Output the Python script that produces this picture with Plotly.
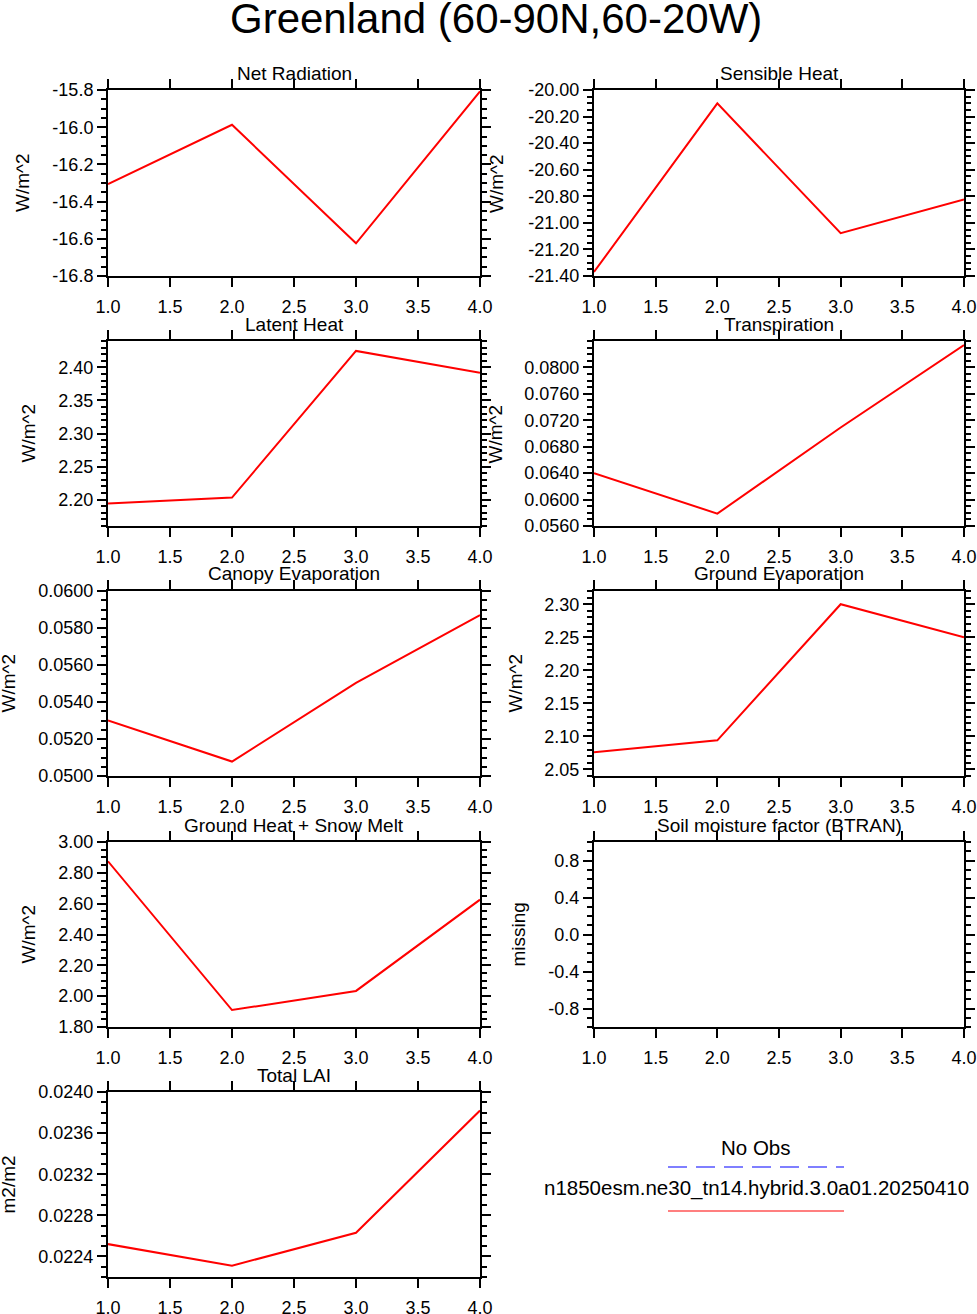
import plotly.graph_objects as go

# x axis of every panel
months = [1, 2, 3, 4]
x_ticks = [1.0, 1.5, 2.0, 2.5, 3.0, 3.5, 4.0]

# series values
net_radiation = [-16.306, -15.987, -16.624, -15.807]
sensible_heat = [-21.37, -20.10, -21.078, -20.824]
latent_heat = [2.194, 2.203, 2.425, 2.392]
transpiration = [0.0640, 0.05787, 0.0709, 0.0834]
canopy_evap = [0.0530, 0.05078, 0.05503, 0.0587]
ground_evap = [2.076, 2.094, 2.300, 2.250]
ground_heat = [2.875, 1.910, 2.034, 2.626]
btran = [None, None, None, None]
total_lai = [0.02252, 0.02231, 0.02263, 0.02382]

# y tick values per panel
net_radiation_ticks = [-16.8, -16.6, -16.4, -16.2, -16.0, -15.8]
sensible_heat_ticks = [-21.4, -21.2, -21.0, -20.8, -20.6, -20.4, -20.2, -20.0]
latent_heat_ticks = [2.20, 2.25, 2.30, 2.35, 2.40]
transpiration_ticks = [0.056, 0.060, 0.064, 0.068, 0.072, 0.076, 0.080]
canopy_evap_ticks = [0.050, 0.052, 0.054, 0.056, 0.058, 0.060]
ground_evap_ticks = [2.05, 2.10, 2.15, 2.20, 2.25, 2.30]
ground_heat_ticks = [1.8, 2.0, 2.2, 2.4, 2.6, 2.8, 3.0]
btran_ticks = [-0.8, -0.4, 0.0, 0.4, 0.8]
total_lai_ticks = [0.0224, 0.0228, 0.0232, 0.0236, 0.0240]

titles = ["Net Radiation", "Sensible Heat", "Latent Heat", "Transpiration",
          "Canopy Evaporation", "Ground Evaporation", "Ground Heat + Snow Melt",
          "Soil moisture factor (BTRAN)", "Total LAI"]
units = ["W/m^2", "W/m^2", "W/m^2", "W/m^2", "W/m^2", "W/m^2", "W/m^2", "missing", "m2/m2"]

panels = [
    # values, ticks, range, decimals, minor step, row, col, y-title x (px)
    (net_radiation, net_radiation_ticks, [-16.8, -15.8], 1, 0.05, 0, 0, 23),
    (sensible_heat, sensible_heat_ticks, [-21.4, -20.0], 2, 0.05, 0, 1, 497),
    (latent_heat, latent_heat_ticks, [2.16, 2.44], 2, 0.01, 1, 0, 28),
    (transpiration, transpiration_ticks, [0.056, 0.084], 4, 0.001, 1, 1, 495),
    (canopy_evap, canopy_evap_ticks, [0.050, 0.060], 4, 0.0005, 2, 0, 8),
    (ground_evap, ground_evap_ticks, [2.04, 2.32], 2, 0.01, 2, 1, 515),
    (ground_heat, ground_heat_ticks, [1.8, 3.0], 2, 0.05, 3, 0, 28),
    (btran, btran_ticks, [-1.0, 1.0], 1, 0.1, 3, 1, 518),
    (total_lai, total_lai_ticks, [0.0222, 0.0240], 4, 0.0001, 4, 0, 8),
]

W, H = 977, 1314
col_x = [(108, 480), (594, 964)]
row_y = [(90, 276), (341, 526), (591, 776), (842, 1027), (1092, 1277)]
FONT = "Liberation Sans, Arial, Helvetica, sans-serif"

fig = go.Figure()
annotations = []

for i, (vals, yt, yr, dec, minor, r, c, ytx) in enumerate(panels):
    n = "" if i == 0 else str(i + 1)
    x0, x1 = col_x[c]
    y0, y1 = row_y[r]
    fig.add_trace(go.Scatter(x=months, y=vals, mode="lines",
                             line=dict(color="red", width=2),
                             xaxis="x" + n, yaxis="y" + n, showlegend=False))
    common = dict(showline=True, linecolor="black", linewidth=2, mirror="ticks",
                  ticks="outside", tickcolor="black", tickwidth=2, ticklen=9,
                  showgrid=False, zeroline=False, fixedrange=True, automargin=False,
                  tickfont=dict(family=FONT, size=18, color="black"))
    fig.update_layout(**{
        "xaxis" + n: dict(common, domain=[x0 / W, x1 / W], anchor="y" + n,
                          range=[1, 4], tickmode="array", tickvals=x_ticks,
                          ticktext=["%.1f" % v for v in x_ticks],
                          ticklabelstandoff=4),
        "yaxis" + n: dict(common, domain=[1 - y1 / H, 1 - y0 / H], anchor="x" + n,
                          range=yr, tickmode="array", tickvals=yt,
                          ticktext=[("%." + str(dec) + "f") % v for v in yt],
                          minor=dict(dtick=minor, tick0=yt[0], ticks="outside",
                                     ticklen=5, tickwidth=1.5, tickcolor="black")),
    })
    annotations.append(dict(text=titles[i], xref="paper", yref="paper",
                            x=(x0 + x1) / 2 / W, y=1 - (y0 - 17) / H,
                            xanchor="center", yanchor="middle", showarrow=False,
                            font=dict(family=FONT, size=19, color="black")))
    annotations.append(dict(text=units[i], xref="paper", yref="paper",
                            x=ytx / W, y=1 - (y0 + y1) / 2 / H, textangle=-90,
                            xanchor="center", yanchor="middle", showarrow=False,
                            font=dict(family=FONT, size=19, color="black")))

# main title
annotations.append(dict(text="Greenland (60-90N,60-20W)", xref="paper", yref="paper",
                        x=496 / W, y=1 - 18 / H, xanchor="center", yanchor="middle",
                        showarrow=False, font=dict(family=FONT, size=42, color="black")))

# legend block in the empty bottom-right cell
annotations.append(dict(text="No Obs", xref="paper", yref="paper",
                        x=756 / W, y=1 - 1147 / H, xanchor="center", yanchor="middle",
                        showarrow=False, font=dict(family=FONT, size=20.5, color="black")))
annotations.append(dict(text="n1850esm.ne30_tn14.hybrid.3.0a01.20250410", xref="paper",
                        yref="paper", x=756 / W, y=1 - 1188 / H, xanchor="center",
                        yanchor="middle", showarrow=False,
                        font=dict(family=FONT, size=20.5, color="black")))
shapes = [
    dict(type="line", xref="paper", yref="paper", x0=668 / W, x1=844 / W,
         y0=1 - 1167 / H, y1=1 - 1167 / H, line=dict(color="blue", width=1.2, dash="19px,9px")),
    dict(type="line", xref="paper", yref="paper", x0=668 / W, x1=844 / W,
         y0=1 - 1211 / H, y1=1 - 1211 / H, line=dict(color="red", width=1.2)),
]

fig.update_layout(width=W, height=H, margin=dict(l=0, r=0, t=0, b=0),
                  paper_bgcolor="white", plot_bgcolor="white",
                  annotations=annotations, shapes=shapes, showlegend=False)

# drop the browser's default page margin so the figure sits at the window corner
fig.write_html("out.html", config={"displayModeBar": False},
               post_script="document.body.style.margin='0px';document.body.style.overflow='hidden';")
